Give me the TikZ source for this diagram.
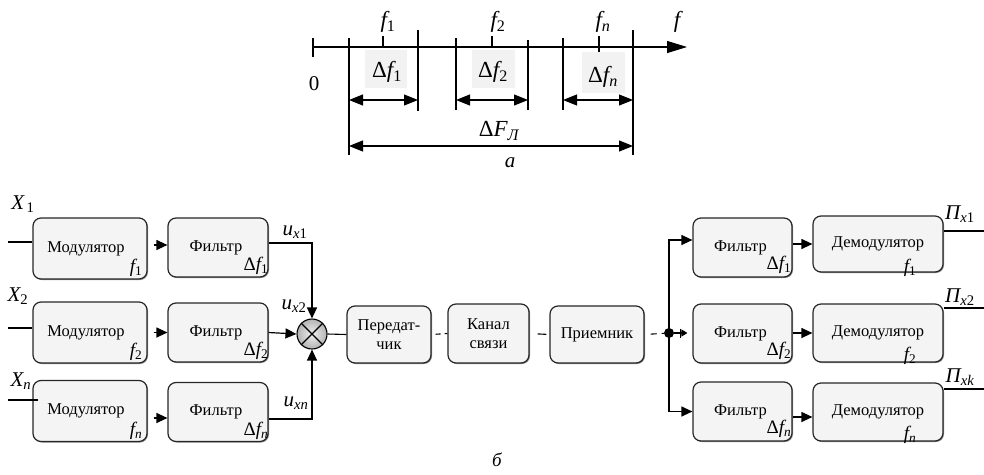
\documentclass[tikz,border=0pt]{standalone}
\usepackage{fontspec}
\setmainfont{Liberation Serif}
\usetikzlibrary{arrows.meta,calc,shadows}
\newcommand\sbx[1]{\textsubscript{#1}}
\begin{document}
\begin{tikzpicture}[x=1pt,y=-1pt,
  blk/.style={draw=black!85, rounded corners=8pt, fill=gray!9, line width=1.2pt, inner sep=0pt,
    font=\fontsize{16.5}{18.5}\selectfont,
    drop shadow={shadow xshift=1pt,shadow yshift=-1pt,opacity=0.45,fill=black}},
  arr/.style={-{Triangle[length=11pt,width=10pt]}, line width=1.2pt},
  ln/.style={line width=1.1pt},
  dim/.style={{Triangle[length=14pt,width=11pt]}-{Triangle[length=14pt,width=11pt]}, line width=1.1pt},
  big/.style={font=\fontsize{23}{25}\selectfont\itshape, inner sep=0pt},
  lbl/.style={font=\fontsize{21}{23}\selectfont\itshape, inner sep=0pt},
  sublbl/.style={font=\fontsize{19}{20}\selectfont\itshape, inner sep=0pt},
  gbox/.style={fill=gray!10, draw=none}
]
\useasboundingbox (0,0) rectangle (984,474);

% ---------- part a ----------
\fill[gbox] (365,50) rectangle (407,88);
\fill[gbox] (472,50) rectangle (515,88);
\fill[gbox] (582,52) rectangle (625,93);
\draw[ln, -{Triangle[length=20pt,width=12pt]}] (313,47) -- (687,47);
\draw[ln] (313,38) -- (313,57);
\draw[ln] (383,36) -- (383,47);
\draw[ln] (492,36) -- (492,47);
\draw[ln] (599,36) -- (599,52);
\draw[ln] (349,38) -- (349,155);
\draw[ln] (418,30) -- (418,111);
\draw[ln] (456,38) -- (456,110);
\draw[ln] (528,40) -- (528,110);
\draw[ln] (563,38) -- (563,110);
\draw[ln] (633,30) -- (633,155);
\draw[dim] (349,100) -- (418,100);
\draw[dim] (456,100) -- (528,100);
\draw[dim] (563,100) -- (633,100);
\draw[dim] (349,146) -- (633,146);
\node[big] (lf1) at (388,22) {f\sbx{\upshape 1}};
\node[big] (lf2) at (498,22) {f\sbx{\upshape 2}};
\node[big] (lfn) at (603,22) {f\sbx{n}};
\node[big] (lf) at (677,22) {f};
\node[font=\fontsize{21}{23}\selectfont, inner sep=0pt] (l0) at (314,84) {0};
\node[big] (ldf1) at (387,72) {{\upshape Δ}f\sbx{\upshape 1}};
\node[big] (ldf2) at (493,72) {{\upshape Δ}f\sbx{\upshape 2}};
\node[big] (ldfn) at (603,77) {{\upshape Δ}f\sbx{n}};
\node[big] (ldF) at (499,131) {{\upshape Δ}F\sbx{Л}};
\node[lbl] (la) at (510,163) {а};

% ---------- part b ----------
\node[blk, minimum width=114pt, minimum height=61pt] (m1) at (90,248.5) {Модулятор\hspace*{8pt}};
\node[blk, minimum width=114pt, minimum height=61pt] (m2) at (90,332.5) {Модулятор\hspace*{8pt}};
\node[blk, minimum width=114pt, minimum height=61pt] (m3) at (90,411) {Модулятор\hspace*{8pt}};
\node[blk, minimum width=100pt, minimum height=59pt] (fl1) at (218,247.5) {Фильтр\hspace*{4pt}};
\node[blk, minimum width=100pt, minimum height=59pt] (fl2) at (218,332.5) {Фильтр\hspace*{4pt}};
\node[blk, minimum width=100pt, minimum height=59pt] (fl3) at (218,412) {Фильтр\hspace*{4pt}};
\node[circle, draw, line width=1.1pt, minimum size=30pt, inner sep=0pt,
      inner color=gray!12, outer color=gray!60] (mx) at (312,334) {};
\draw[ln] (mx.45) -- (mx.225);
\draw[ln] (mx.135) -- (mx.315);
\node[blk, minimum width=84pt, minimum height=57pt, align=center] (tx) at (389,334.5) {Передат-\\чик};
\node[blk, minimum width=81pt, minimum height=59pt, align=center] (ch) at (488.5,333.5) {Канал\\связи};
\node[blk, minimum width=94pt, minimum height=57pt] (rx) at (597,334.5) {Приемник};
\node[circle, fill=black, inner sep=0pt, minimum size=10pt] (jn) at (669,333) {};
\node[blk, minimum width=99pt, minimum height=59pt] (fr1) at (742.5,247.5) {Фильтр\hspace*{4pt}};
\node[blk, minimum width=99pt, minimum height=59pt] (fr2) at (742.5,333.5) {Фильтр\hspace*{4pt}};
\node[blk, minimum width=99pt, minimum height=59pt] (fr3) at (742.5,411.5) {Фильтр\hspace*{4pt}};
\node[blk, minimum width=130pt, minimum height=56pt] (dm1) at (878,244) {Демодулятор};
\node[blk, minimum width=130pt, minimum height=58pt] (dm2) at (878,333) {Демодулятор};
\node[blk, minimum width=130pt, minimum height=58pt] (dm3) at (878,412) {Демодулятор};

% subscripts inside blocks
\node[sublbl] (sm1) at (136,268) {f\sbx{\upshape 1}};
\node[sublbl] (sm2) at (136,352) {f\sbx{\upshape 2}};
\node[sublbl] (sm3) at (136,431) {f\sbx{n}};
\node[sublbl] (sf1) at (256,266) {{\upshape Δ}f\sbx{\upshape 1}};
\node[sublbl] (sf2) at (256,351) {{\upshape Δ}f\sbx{\upshape 2}};
\node[sublbl] (sf3) at (256,431) {{\upshape Δ}f\sbx{n}};
\node[sublbl] (sr1) at (779,265) {{\upshape Δ}f\sbx{\upshape 1}};
\node[sublbl] (sr2) at (779,351) {{\upshape Δ}f\sbx{\upshape 2}};
\node[sublbl] (sr3) at (779,429) {{\upshape Δ}f\sbx{n}};
\node[sublbl] (sd1) at (910,268) {f\sbx{\upshape 1}};
\node[sublbl] (sd2) at (910,356) {f\sbx{\upshape 2}};
\node[sublbl] (sd3) at (910,435) {f\sbx{n}};

% inputs
\coordinate (in1) at (8,242);
\coordinate (in2) at (8,328);
\coordinate (in3) at (8,400);
\draw[ln] (in1) -- (in1 -| m1.west);
\draw[ln] (in2) -- (in2 -| m2.west);
\draw[ln] (in3) -- ([xshift=6pt]in3 -| m3.west);
\node[lbl] (x1) at (23,204) {X\sbx{\,\upshape 1}};
\node[lbl] (x2) at (18,296) {X\sbx{\upshape 2}};
\node[lbl] (x3) at (21,381) {X\sbx{n}};

% modulator -> filter
\draw[arr] ([shift={(6,-3.5)}]m1.east) -- ([yshift=3.5pt]fl1.west |- m1.east);
\draw[arr] ([xshift=6pt]m2.east) -- (fl2.west);
\draw[arr] ([shift={(6,7)}]m3.east) -- ([yshift=-7pt]fl3.west |- m3.east);

% filters -> mixer
\draw[arr] ([yshift=4.5pt]fl1.east) -| (mx.north);
\draw[arr] (fl2.east) -- (mx.west);
\draw[arr] ([yshift=-7pt]fl3.east) -| (mx.south);
\node[lbl] (ux1) at (295,232) {u\sbx{x\upshape 1}};
\node[lbl] (ux2) at (294,306) {u\sbx{x\upshape 2}};
\node[lbl] (uxn) at (296,403) {u\sbx{xn}};

% chain
\draw[ln] (mx.east) -- (tx.west);
\draw[ln, dash pattern=on 5pt off 4pt, shorten <=4pt] (tx.east) -- (ch.west);
\draw[ln, shorten <=8pt, shorten >=3pt] (ch.east) -- (rx.west);
\draw[ln, dash pattern=on 6pt off 5pt, shorten <=6pt] (rx.east) -- (jn);

% distribution
\draw[arr] (jn.center) |- ([yshift=7.5pt]fr1.west);
\draw[arr] (jn.center) |- (fr3.west);
\draw[line width=1.1pt, -{Bar[width=9pt,line width=1pt] Triangle[length=6pt,width=7pt]}, shorten >=5pt] (jn) -- (jn -| fr2.west);

% filters -> demodulators
\draw[arr] (fr1.east |- dm1.west) -- (dm1.west);
\draw[arr] (fr2.east |- dm2.west) -- (dm2.west);
\draw[arr] ([yshift=-5.5pt]fr3.east) -- ([yshift=-5pt]dm3.west);

% outputs
\coordinate (o1) at (984,231);
\coordinate (o2) at (984,308);
\coordinate (o3) at (984,389);
\draw[ln] (o1 -| dm1.east) -- (o1);
\draw[ln] (o2 -| dm2.east) -- (o2);
\draw[ln] (o3 -| dm3.east) -- (o3);
\node[lbl] (p1) at (960,214) {П\sbx{x\upshape 1}};
\node[lbl] (p2) at (960,297) {П\sbx{x\upshape 2}};
\node[lbl] (p3) at (960,377) {П\sbx{xk}};

\node[font=\fontsize{19}{21}\selectfont\itshape, inner sep=0pt] (lb) at (497,460) {б};
\end{tikzpicture}
\end{document}
